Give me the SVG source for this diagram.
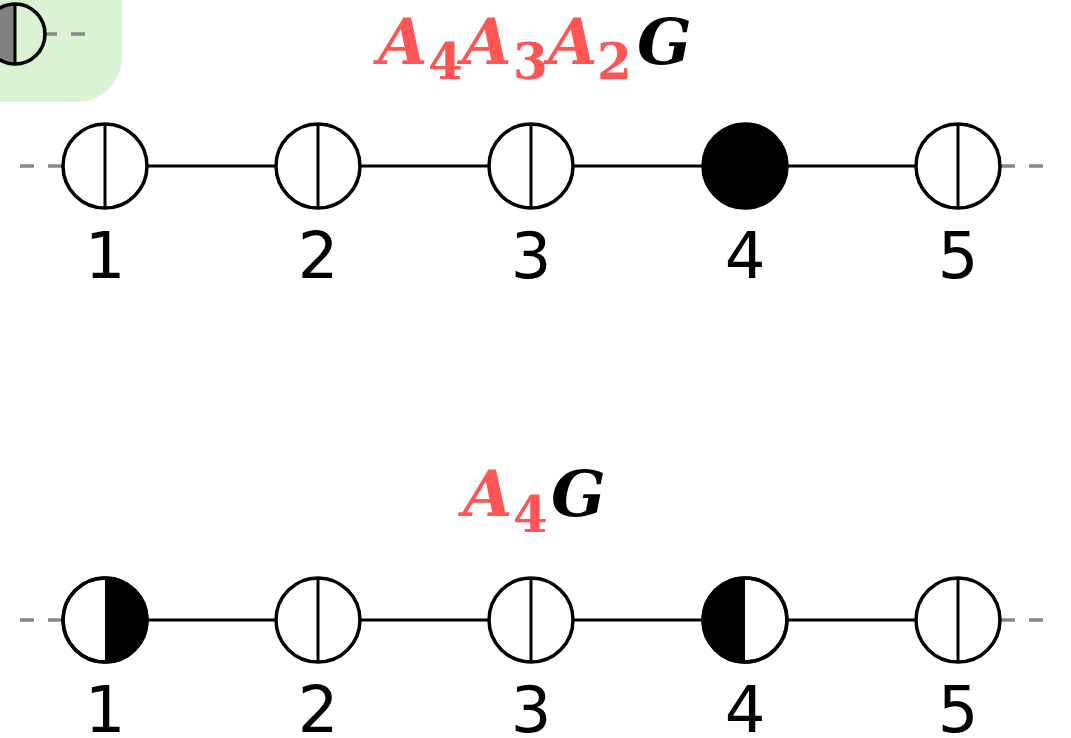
<svg xmlns="http://www.w3.org/2000/svg" width="1071" height="738" viewBox="0 0 1071 738">
<style>
.c{fill:#fff;stroke:#000;stroke-width:3.5}
.v{stroke:#000;stroke-width:3}
.e{stroke:#000;stroke-width:3;fill:none}
.d{stroke:#888;stroke-width:3.5;stroke-dasharray:14 14;fill:none}
.n{font-family:"DejaVu Sans",sans-serif;font-size:64px;text-anchor:middle;fill:#000}
.t{font-family:"DejaVu Serif",serif;font-weight:bold;font-style:italic;font-size:64px}
.s{font-family:"DejaVu Serif",serif;font-weight:bold;font-size:50px}
.r{fill:#ff5555}
</style>
<rect x="-60" y="-60" width="182" height="162" rx="45" fill="#daf3d2"/>
<g id="legend">
<line class="d" x1="43" y1="34" x2="88" y2="34"/>
<path d="M15,4 A30,30 0 0,0 15,64 Z" fill="#808080"/>
<circle cx="15" cy="34" r="30" fill="none" stroke="#000" stroke-width="3.5"/>
<line class="v" x1="15" y1="4" x2="15" y2="64"/>
</g>
<g id="title1">
<text class="t r" x="378" y="64">A</text>
<text class="s r" x="428" y="79">4</text>
<text class="t r" x="462" y="64">A</text>
<text class="s r" x="513" y="79">3</text>
<text class="t r" x="548" y="64">A</text>
<text class="s r" x="597" y="79">2</text>
<text class="t" x="637" y="64">G</text>
</g>
<g id="title2">
<text class="t r" x="463" y="516">A</text>
<text class="s r" x="513" y="532">4</text>
<text class="t" x="551" y="516">G</text>
</g>
<g id="connectors">
<line class="d" x1="62" y1="166" x2="19" y2="166"/>
<line class="d" x1="1001" y1="166" x2="1055" y2="166"/>
<line class="e" x1="147" y1="166" x2="276" y2="166"/>
<line class="e" x1="360" y1="166" x2="489" y2="166"/>
<line class="e" x1="573" y1="166" x2="703" y2="166"/>
<line class="e" x1="787" y1="166" x2="916" y2="166"/>
<line class="d" x1="62" y1="620" x2="19" y2="620"/>
<line class="d" x1="1001" y1="620" x2="1055" y2="620"/>
<line class="e" x1="147" y1="620" x2="276" y2="620"/>
<line class="e" x1="360" y1="620" x2="489" y2="620"/>
<line class="e" x1="573" y1="620" x2="703" y2="620"/>
<line class="e" x1="787" y1="620" x2="916" y2="620"/>
</g>
<g id="t1"><circle class="c" cx="105" cy="166" r="42"/><line class="v" x1="105" y1="124" x2="105" y2="208"/><text class="n" x="105" y="278">1</text></g>
<g id="t2"><circle class="c" cx="318" cy="166" r="42"/><line class="v" x1="318" y1="124" x2="318" y2="208"/><text class="n" x="318" y="278">2</text></g>
<g id="t3"><circle class="c" cx="531" cy="166" r="42"/><line class="v" x1="531" y1="124" x2="531" y2="208"/><text class="n" x="531" y="278">3</text></g>
<g id="t4"><circle cx="745" cy="166" r="42" fill="#000" stroke="#000" stroke-width="3.5"/><text class="n" x="745" y="278">4</text></g>
<g id="t5"><circle class="c" cx="958" cy="166" r="42"/><line class="v" x1="958" y1="124" x2="958" y2="208"/><text class="n" x="958" y="278">5</text></g>
<g id="b1"><circle class="c" cx="105" cy="620" r="42"/><path d="M105,578 A42,42 0 0,1 105,662 Z" fill="#000"/><circle cx="105" cy="620" r="42" fill="none" stroke="#000" stroke-width="3.5"/><text class="n" x="105" y="732">1</text></g>
<g id="b2"><circle class="c" cx="318" cy="620" r="42"/><line class="v" x1="318" y1="578" x2="318" y2="662"/><text class="n" x="318" y="732">2</text></g>
<g id="b3"><circle class="c" cx="531" cy="620" r="42"/><line class="v" x1="531" y1="578" x2="531" y2="662"/><text class="n" x="531" y="732">3</text></g>
<g id="b4"><circle class="c" cx="745" cy="620" r="42"/><path d="M745,578 A42,42 0 0,0 745,662 Z" fill="#000"/><circle cx="745" cy="620" r="42" fill="none" stroke="#000" stroke-width="3.5"/><text class="n" x="745" y="732">4</text></g>
<g id="b5"><circle class="c" cx="958" cy="620" r="42"/><line class="v" x1="958" y1="578" x2="958" y2="662"/><text class="n" x="958" y="732">5</text></g>
</svg>
